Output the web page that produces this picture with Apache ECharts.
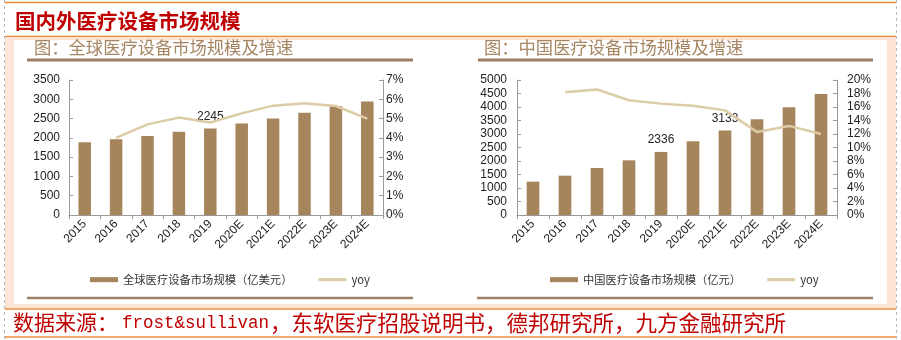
<!DOCTYPE html>
<html>
<head>
<meta charset="utf-8">
<script src="https://cdn.jsdelivr.net/npm/echarts@6/dist/echarts.min.js"></script>
<style>
html,body{margin:0;padding:0;background:#fff;}
#chart{width:901px;height:340px;}
</style>
</head>
<body>
<div id="chart"></div>
<script>
// ---- data ----
var categories = ['2015','2016','2017','2018','2019','2020E','2021E','2022E','2023E','2024E'];
var globalMarket = [1884, 1962, 2048, 2160, 2245, 2375, 2505, 2652, 2825, 2945];
var globalYoy = [null, 4.0, 4.7, 5.05, 4.8, 5.27, 5.67, 5.8, 5.65, 5.0];
var globalLabelIdx = [4];
var chinaMarket = [1235, 1457, 1741, 2025, 2336, 2728, 3133, 3543, 3988, 4481];
var chinaYoy = [null, 18.2, 18.6, 17.0, 16.5, 16.2, 15.5, 12.3, 13.2, 12.0];
var chinaLabelIdx = [4, 6];
var globalTicksLeft = {min: 0, max: 3500, interval: 500};
var globalTicksRight = {min: 0, max: 7, interval: 1};
var chinaTicksLeft = {min: 0, max: 5000, interval: 500};
var chinaTicksRight = {min: 0, max: 20, interval: 2};

var mainTitle = '国内外医疗设备市场规模';
var leftTitle = '图：全球医疗设备市场规模及增速';
var rightTitle = '图：中国医疗设备市场规模及增速';
var globalName = '全球医疗设备市场规模（亿美元）';
var chinaName = '中国医疗设备市场规模（亿元）';
var yoyName = 'yoy';
var sourceParts = ['数据来源：', 'frost&sullivan', '，东软医疗招股说明书，德邦研究所，九方金融研究所'];

// ---- styles ----
var BAR = '#a6845c';
var LINE = '#dccca6';
var AXIS = '#9a9a9a';
var TXT = '#222';
var CJK = '"Noto Sans CJK SC", sans-serif';
var LAT = '"Liberation Sans", Arial, sans-serif';
var ORANGE = '#ee8a3c';
var PEACH = '#fde4d6';
var RED = '#c00000';
var TAN = '#a58562';
var BROWN = '#9d7f66';

function withLabels(vals, idx) {
  return vals.map(function (v, i) {
    if (idx.indexOf(i) >= 0) {
      return {value: v, label: {show: true, position: 'top', distance: 6, color: TXT, fontSize: 12, fontFamily: LAT,
        formatter: function (p) { return String(p.value); }}};
    }
    return v;
  });
}

function xAxis(gi) {
  return {
    type: 'category', gridIndex: gi, data: categories,
    axisLine: {lineStyle: {color: AXIS, width: 1}},
    axisTick: {show: true, inside: false, length: 4, lineStyle: {color: AXIS}},
    axisLabel: {rotate: 45, color: TXT, fontSize: 12, fontFamily: LAT, margin: 7, interval: 0}
  };
}
function yAxis(gi, t, pos, margin, pct) {
  return {
    type: 'value', gridIndex: gi, position: pos, min: t.min, max: t.max, interval: t.interval,
    splitLine: {show: false},
    axisLine: {show: true, lineStyle: {color: AXIS, width: 1}},
    axisTick: {show: true, inside: true, length: 4, lineStyle: {color: AXIS}},
    axisLabel: {color: TXT, fontSize: 12, fontFamily: LAT, margin: margin,
      formatter: function (v) { return pct ? v + '%' : String(v); }}
  };
}

var lineIcon = 'path://M0 0H28V3H0Z';

var chart = echarts.init(document.getElementById('chart'), null, {renderer: 'canvas'});
var option = {
  animation: false,
  backgroundColor: '#fff',
  grid: [
    {left: 69, top: 80, width: 314, height: 135},
    {left: 517, top: 80, width: 320, height: 135}
  ],
  xAxis: [xAxis(0), xAxis(1)],
  yAxis: [
    yAxis(0, globalTicksLeft, 'left', 9, false),
    yAxis(0, globalTicksRight, 'right', 3, true),
    yAxis(1, chinaTicksLeft, 'left', 10, false),
    yAxis(1, chinaTicksRight, 'right', 10, true)
  ],
  legend: [
    {left: 85, top: 269, itemWidth: 28, itemHeight: 5, itemGap: 26,
     data: [{name: globalName, icon: 'rect'}, {name: yoyName, icon: lineIcon}],
     textStyle: {fontSize: 11.3, color: '#333', fontFamily: CJK}},
    {left: 545, top: 269, itemWidth: 28, itemHeight: 5, itemGap: 26,
     data: [{name: chinaName, icon: 'rect'}, {name: yoyName, icon: lineIcon}],
     textStyle: {fontSize: 11.3, color: '#333', fontFamily: CJK}}
  ],
  series: [
    {name: globalName, type: 'bar', xAxisIndex: 0, yAxisIndex: 0, barWidth: 12.5,
     itemStyle: {color: BAR}, data: withLabels(globalMarket, globalLabelIdx)},
    {name: yoyName, type: 'line', xAxisIndex: 0, yAxisIndex: 1, symbol: 'none', showSymbol: false,
     lineStyle: {color: LINE, width: 2.5}, itemStyle: {color: LINE}, data: globalYoy, z: 3},
    {name: chinaName, type: 'bar', xAxisIndex: 1, yAxisIndex: 2, barWidth: 12.7,
     itemStyle: {color: BAR}, data: withLabels(chinaMarket, chinaLabelIdx)},
    {name: yoyName, type: 'line', xAxisIndex: 1, yAxisIndex: 3, symbol: 'none', showSymbol: false,
     lineStyle: {color: LINE, width: 2.5}, itemStyle: {color: LINE}, data: chinaYoy, z: 3}
  ],
  graphic: [
    // frame
    {type: 'line', shape: {x1: 4.5, y1: 0, x2: 4.5, y2: 340}, style: {stroke: '#bbb', lineWidth: 1, lineDash: [3, 3]}},
    {type: 'line', shape: {x1: 896.5, y1: 0, x2: 896.5, y2: 340}, style: {stroke: '#bbb', lineWidth: 1, lineDash: [3, 3]}},
    {type: 'line', shape: {x1: 5, y1: 2.5, x2: 896, y2: 2.5}, style: {stroke: ORANGE, lineWidth: 1.5}},
    {type: 'line', shape: {x1: 5, y1: 36.5, x2: 896, y2: 36.5}, style: {stroke: ORANGE, lineWidth: 1.5}},
    {type: 'rect', shape: {x: 5, y: 37.5, width: 891, height: 2.5}, style: {fill: PEACH}},
    {type: 'rect', shape: {x: 5, y: 37.5, width: 9, height: 270}, style: {fill: PEACH}},
    {type: 'rect', shape: {x: 887, y: 37.5, width: 9, height: 270}, style: {fill: PEACH}},
    {type: 'rect', shape: {x: 5, y: 304, width: 891, height: 4}, style: {fill: PEACH}},
    {type: 'line', shape: {x1: 5, y1: 309, x2: 896, y2: 309}, style: {stroke: ORANGE, lineWidth: 1.5}},
    {type: 'line', shape: {x1: 5, y1: 337, x2: 896, y2: 337}, style: {stroke: ORANGE, lineWidth: 1.5}},
    // titles
    {type: 'text', left: 15, top: 11, style: {text: mainTitle, fill: RED, font: 'bold 20.5px ' + CJK}},
    {type: 'text', left: 34, top: 39, style: {text: leftTitle, fill: TAN, font: '17.3px ' + CJK}},
    {type: 'text', left: 484, top: 39, style: {text: rightTitle, fill: TAN, font: '17.3px ' + CJK}},
    {type: 'line', shape: {x1: 27, y1: 60, x2: 413, y2: 60}, style: {stroke: BROWN, lineWidth: 3}},
    {type: 'line', shape: {x1: 478, y1: 60, x2: 873, y2: 60}, style: {stroke: BROWN, lineWidth: 3}},
    {type: 'line', shape: {x1: 27, y1: 298, x2: 413, y2: 298}, style: {stroke: BROWN, lineWidth: 2.5}},
    {type: 'line', shape: {x1: 477, y1: 298, x2: 873, y2: 298}, style: {stroke: BROWN, lineWidth: 2.5}},
    // source
    {type: 'text', left: 13, top: 312, style: {text: sourceParts[0], fill: RED, font: '21px ' + CJK}},
    {type: 'text', left: 122, top: 314, style: {text: sourceParts[1], fill: RED, font: '17.5px "Liberation Mono", monospace'}},
    {type: 'text', left: 270, top: 312, style: {text: sourceParts[2], fill: RED, font: '21.5px ' + CJK}}
  ]
};
chart.setOption(option);
</script>
</body>
</html>
